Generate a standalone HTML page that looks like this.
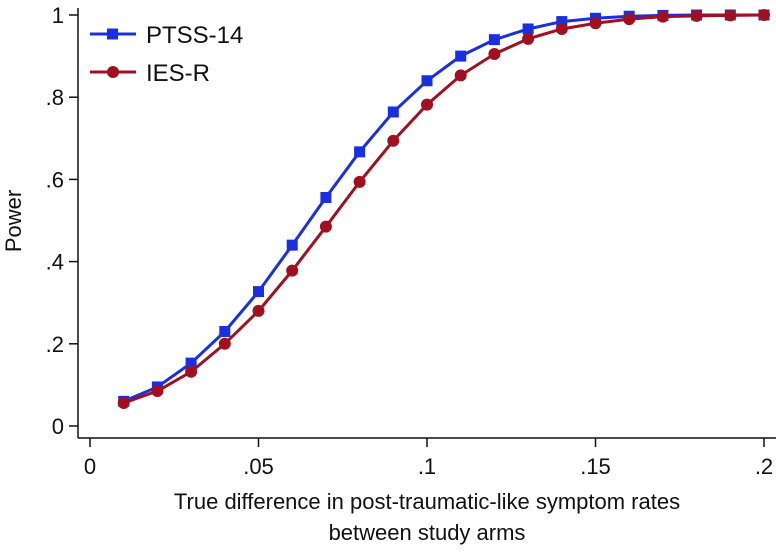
<!DOCTYPE html>
<html><head><meta charset="utf-8"><style>
body{margin:0;background:#fff}
svg{display:block;font-family:"Liberation Sans",Arial,sans-serif}
</style></head><body>
<svg id="chart" width="776" height="552" viewBox="0 0 776 552">
<rect width="776" height="552" fill="#fff"/>
<g id="axes"></g>
<g id="series"></g>
<g>
<g>
<line x1="90" y1="34" x2="136" y2="34" stroke="#1a2fe0" stroke-width="3"/>
<rect x="107" y="28.5" width="11" height="11" fill="#1a2fe0"/>
<text x="146" y="43" font-size="24" fill="#111">PTSS-14</text></g>
<g>
<line x1="90" y1="72" x2="136" y2="72" stroke="#a01020" stroke-width="3"/>
<circle cx="113" cy="72" r="6" fill="#a01020"/>
<text x="146" y="81" font-size="24" fill="#111">IES-R</text></g>
</g>
<text transform="translate(21,221) rotate(-90)" text-anchor="middle" font-size="22" fill="#111">Power</text>
<text x="427" y="509" text-anchor="middle" font-size="22" fill="#111">True difference in post-traumatic-like symptom rates</text>
<text x="427" y="540" text-anchor="middle" font-size="22" fill="#111">between study arms</text>
</svg>
<script>
const xValues=[0.01,0.02,0.03,0.04,0.05,0.06,0.07,0.08,0.09,0.10,0.11,0.12,0.13,0.14,0.15,0.16,0.17,0.18,0.19,0.20];
const ptss14=[0.06,0.095,0.153,0.23,0.327,0.44,0.556,0.667,0.764,0.84,0.90,0.94,0.966,0.984,0.992,0.997,0.999,1,1,1];
const iesr=[0.056,0.085,0.132,0.2,0.28,0.378,0.485,0.594,0.694,0.782,0.853,0.905,0.942,0.966,0.98,0.99,0.996,0.998,0.999,1];
const xTicks=[0,0.05,0.1,0.15,0.2];
const xTickLabels=["0",".05",".1",".15",".2"];
const yTicks=[0,0.2,0.4,0.6,0.8,1];
const yTickLabels=["0",".2",".4",".6",".8","1"];
const NS="http://www.w3.org/2000/svg";
const X=v=>90+v/0.2*674;
const Y=v=>426-v*411;
function mk(tag,attrs,parent){const e=document.createElementNS(NS,tag);for(const k in attrs)e.setAttribute(k,attrs[k]);parent.appendChild(e);return e;}
const ax=document.getElementById('axes');
let l=mk('line',{x1:78,y1:8,x2:78,y2:438,stroke:'#111','stroke-width':1.5},ax);


l=mk('line',{x1:78,y1:438,x2:776,y2:438,stroke:'#111','stroke-width':1.5},ax);


yTicks.forEach((v,i)=>{
 const t=mk('line',{x1:69,y1:Y(v),x2:78,y2:Y(v),stroke:'#111','stroke-width':1.5},ax);
 
 
 const tx=mk('text',{x:64,y:Y(v)+8,'text-anchor':'end','font-size':22,fill:'#111'},ax);
 tx.textContent=yTickLabels[i];
 
 
});
xTicks.forEach((v,i)=>{
 const t=mk('line',{x1:X(v),y1:438,x2:X(v),y2:447,stroke:'#111','stroke-width':1.5},ax);
 
 
 const tx=mk('text',{x:X(v),y:474,'text-anchor':'middle','font-size':22,fill:'#111'},ax);
 tx.textContent=xTickLabels[i];
 
 
});
const sg=document.getElementById('series');
function series(vals,color,marker,name){
 const g=mk('g',{},sg);
 
 
 const p=mk('polyline',{points:vals.map((v,i)=>X(xValues[i])+','+Y(v)).join(' '),fill:'none',stroke:color,'stroke-width':3},g);
 
 
 vals.forEach((v,i)=>{
  const m=marker==='sq'?mk('rect',{x:X(xValues[i])-5.5,y:Y(v)-5.5,width:11,height:11,fill:color},g):mk('circle',{cx:X(xValues[i]),cy:Y(v),r:6,fill:color},g);
  
  
 });
}
series(ptss14,'#1a2fe0','sq','ptss14-series');
series(iesr,'#a01020','ci','iesr-series');
</script>
</body></html>
